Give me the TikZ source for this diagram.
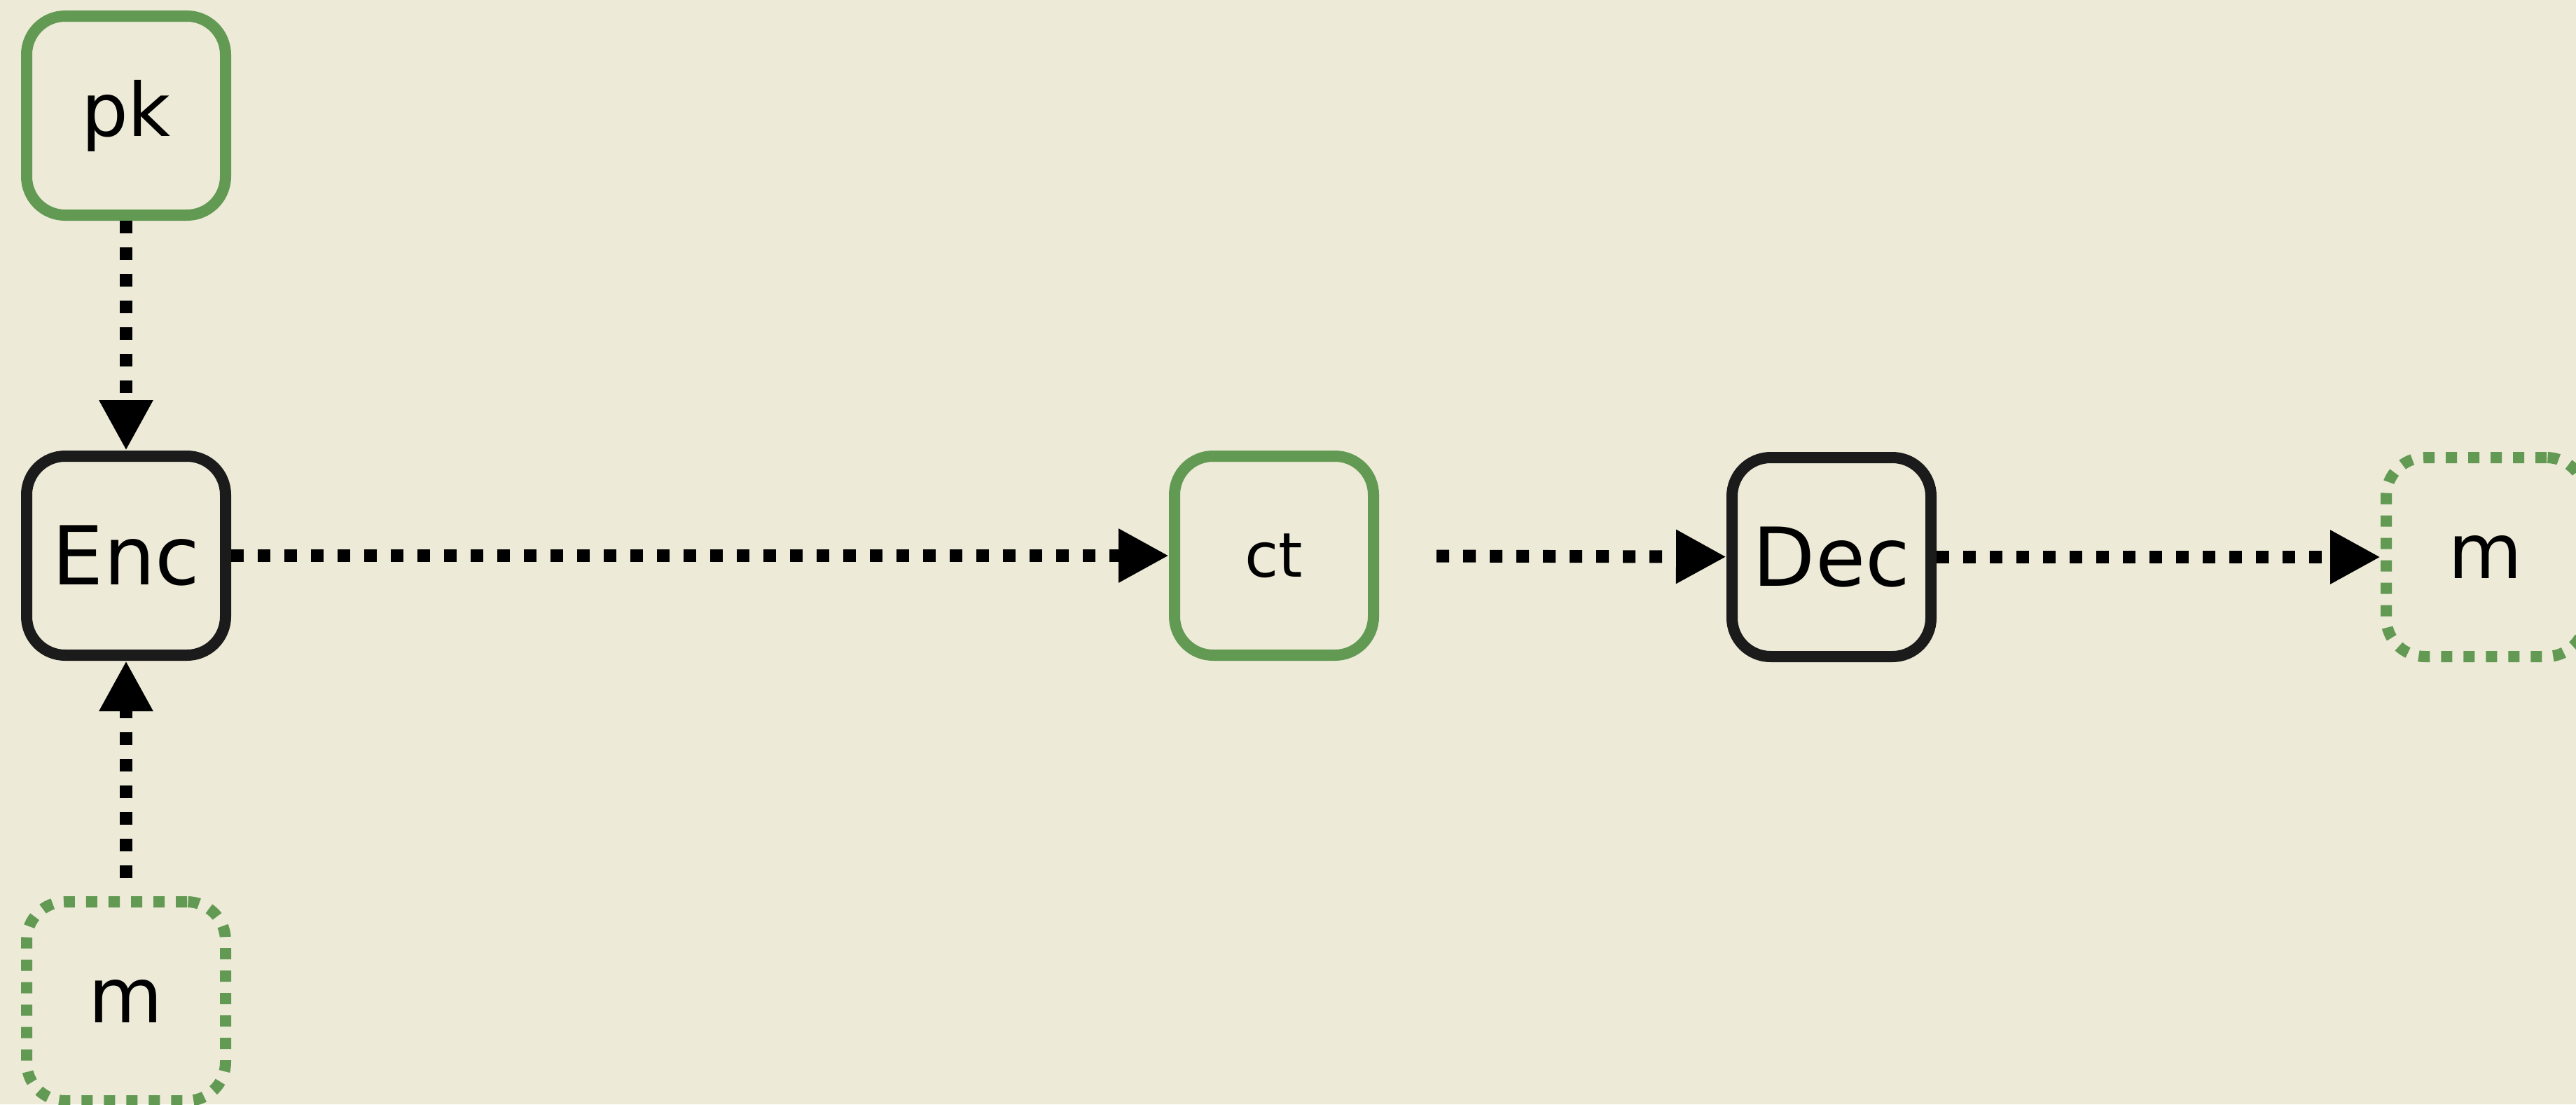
\documentclass[tikz,border=0pt]{standalone}
\usepackage{fontspec}
\setmainfont{DejaVu Sans}
\usetikzlibrary{arrows.meta}
\definecolor{paper}{HTML}{EDEAD7}
\definecolor{keygreen}{HTML}{629A54}
\definecolor{boxblack}{HTML}{1B1B1B}
\begin{document}
\begin{tikzpicture}[
    block/.style={line width=0.16cm,rounded corners=0.55cm,minimum width=2.84cm,minimum height=2.84cm,inner sep=0pt},
    algo/.style={block,draw=boxblack},
    value/.style={block,draw=keygreen},
    msg/.style={block,draw=keygreen,dash pattern=on 0.16cm off 0.16cm},
    fsize/.style={font=\fontsize{#1}{#1}\selectfont},
    dmark/.style={
    -{Triangle[length=0.72cm,width=0.72cm]},
    line width=0.18cm,
    dash pattern=on 0.18cm off 0.2cm
    }
]
\fill[paper] (0,0) rectangle (36.78,-15.76);
\useasboundingbox (0,0) rectangle (36.78,-15.76);

%Draw the boxes
\node[value,fsize=30pt] (pk) at (1.80,-1.65) {pk};
\node[algo,fsize=33pt] (enc) at (1.80,-7.93) {Enc};
\node[msg,fsize=31pt] (m1) at (1.80,-14.29) {m};
\node[value,fsize=25pt] (ct) at (18.19,-7.93) {ct};
\node[algo,fsize=33pt] (dec) at (26.15,-7.95) {Dec};
\node[msg,fsize=31pt] (m2) at (35.49,-7.95) {m};

%Draw the connections
\draw[dmark] (pk) -- (enc);
\draw[dmark,shorten <=0.26cm] (m1) -- (enc);
\draw[dmark] (enc) -- (ct);
\draw[dmark,shorten <=0.82cm] (ct) -- (dec);
\draw[dmark] (dec) -- (m2);

\end{tikzpicture}
\end{document}
